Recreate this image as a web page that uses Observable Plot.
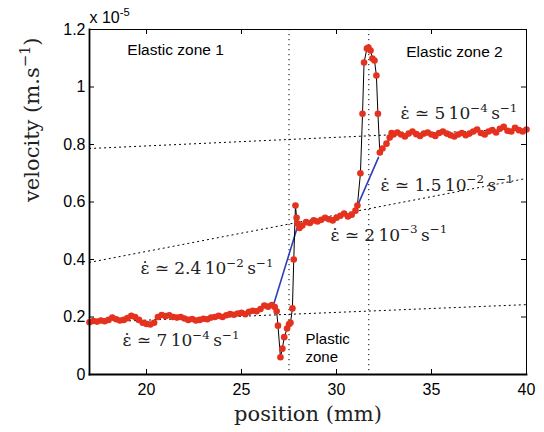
<!DOCTYPE html>
<html><head><meta charset="utf-8">
<script src="https://cdn.jsdelivr.net/npm/d3@7"></script>
<script src="https://cdn.jsdelivr.net/npm/@observablehq/plot@0.6"></script>
<style>body{margin:0;background:#fff}</style>
</head><body><div id="chart"></div>
<script>
// position (mm) and velocity (in units of 1e-5 m/s)
const position = [
  17.0,17.2,17.4,17.6,17.8,18.0,18.2,18.4,18.6,18.8,19.0,19.2,19.4,19.6,19.8,20.0,20.2,20.4,20.6,20.8,
  21.0,21.2,21.4,21.6,21.8,22.0,22.2,22.4,22.6,22.8,23.0,23.2,23.4,23.6,23.8,24.0,24.2,24.4,24.6,24.8,
  25.0,25.2,25.4,25.6,25.8,26.0,26.2,26.4,26.6,
  26.75,26.85,26.92,27.05,27.15,27.25,27.4,27.5,27.58,27.68,27.75,27.84,27.9,
  27.95,28.05,28.2,28.4,28.6,28.8,29.0,29.2,29.4,29.6,29.8,30.0,30.2,30.4,30.6,30.8,31.0,31.1,
  31.26,31.37,31.45,31.6,31.68,31.79,31.89,32.0,32.1,32.18,32.28,32.42,32.63,32.8,32.9,
  33.0,33.2,33.4,33.6,33.8,34.0,34.2,34.4,34.6,34.8,35.0,35.2,35.4,35.6,35.8,36.0,36.2,36.4,36.6,36.8,
  37.0,37.2,37.4,37.6,37.8,38.0,38.2,38.4,38.6,38.8,39.0,39.2,39.4,39.6,39.8,40.0
];
const velocity = [
  0.182,0.186,0.184,0.188,0.185,0.19,0.198,0.192,0.188,0.19,0.196,0.204,0.2,0.19,0.18,0.176,0.174,0.18,0.2,0.207,
  0.203,0.206,0.2,0.198,0.2,0.195,0.19,0.193,0.188,0.19,0.194,0.192,0.198,0.2,0.204,0.2,0.206,0.21,0.208,0.212,
  0.215,0.21,0.218,0.222,0.22,0.228,0.24,0.236,0.242,
  0.235,0.22,0.17,0.06,0.09,0.13,0.16,0.175,0.18,0.23,0.40,0.588,0.545,
  0.525,0.51,0.518,0.53,0.527,0.536,0.532,0.538,0.545,0.54,0.536,0.545,0.552,0.56,0.55,0.556,0.57,0.588,
  0.70,0.907,1.085,1.134,1.137,1.127,1.099,1.092,1.04,0.907,0.772,0.786,0.803,0.824,0.84,
  0.835,0.842,0.835,0.828,0.838,0.845,0.836,0.83,0.838,0.842,0.835,0.83,0.84,0.845,0.838,0.832,0.828,0.835,0.84,0.832,
  0.838,0.845,0.852,0.84,0.835,0.845,0.85,0.842,0.855,0.862,0.848,0.845,0.858,0.85,0.845,0.852
];
const xTicks = [20, 25, 30, 35, 40];
const yTicks = [0, 0.2, 0.4, 0.6, 0.8, 1, 1.2];
const yTickLabels = ["0", "0.2", "0.4", "0.6", "0.8", "1", "1.2"];
const zoneBounds = [27.5, 31.7];
const fitX = [17, 40];
const fitLow = [0.181, 0.243];
const fitMid = [0.39, 0.682];
const fitHigh = [0.786, 0.855];
const slope1X = [26.7, 27.95], slope1Y = [0.245, 0.515];
const slope2X = [31.16, 32.21], slope2Y = [0.595, 0.755];
const elasticText = ["Elastic zone 1", "Elastic zone 2"];
const elasticX = [21.53, 36.21];
const elasticY = [1.11, 1.103];
const plasticText = "Plastic\nzone";
const plasticX = 28.37, plasticY = 0.042;
const rateText = [
  "ε̇ ≃ 7\u200910^{−4}\u2009s^{−1}",
  "ε̇ ≃ 2.4\u200910^{−2}\u2009s^{−1}",
  "ε̇ ≃ 2\u200910^{−3}\u2009s^{−1}",
  "ε̇ ≃ 1.5\u200910^{−2}\u2009s^{−1}",
  "ε̇ ≃ 5\u200910^{−4}\u2009s^{−1}"
];
const rateX = [18.74, 19.68, 29.68, 32.32, 33.37];
const rateY = [0.10, 0.348, 0.466, 0.640, 0.890];
const xLabel = "position (mm)";
const yLabel = "velocity (m.s^{−1})";
const yMultiplier = "x 10^{-5}";

const pts = position.map((x, i) => ({x, y: velocity[i]}));
const fits = [fitLow, fitMid, fitHigh].flatMap((ys, k) => fitX.map((x, i) => ({x, y: ys[i], k})));
const slopes = [[slope1X, slope1Y], [slope2X, slope2Y]].flatMap(([xs, ys], k) => xs.map((x, i) => ({x, y: ys[i], k})));
const elastic = elasticText.map((t, i) => ({t, x: elasticX[i], y: elasticY[i]}));
const rates = rateText.map((t, i) => ({t, x: rateX[i], y: rateY[i]}));

const sans = "'Liberation Sans', Arial, Helvetica, sans-serif";
const serif = "'DejaVu Serif', serif";
const dotted = "1.2,3.8";

const chart = Plot.plot({
  width: 544, height: 432,
  marginLeft: 89, marginRight: 18, marginTop: 29, marginBottom: 58,
  x: {domain: [17, 40]},
  y: {domain: [0, 1.2]},
  style: {fontFamily: sans, fontSize: "16px", color: "black", background: "white"},
  marks: [
    Plot.line(fits, {x: "x", y: "y", z: "k", stroke: "black", strokeWidth: 1, strokeDasharray: dotted}),
    Plot.ruleX(zoneBounds, {stroke: "black", strokeWidth: 1, strokeDasharray: dotted}),
    Plot.line(slopes, {x: "x", y: "y", z: "k", stroke: "#2f3fb8", strokeWidth: 1.6}),
    Plot.line(pts, {x: "x", y: "y", stroke: "black", strokeWidth: 1}),
    Plot.dot(pts, {x: "x", y: "y", r: 3.3, fill: "#e4321f", stroke: "none"}),
    Plot.text(elastic, {x: "x", y: "y", text: "t", textAnchor: "middle", lineAnchor: "bottom", fontSize: 15.5, fontFamily: sans, fill: "black"}),
    Plot.text([plasticText], {x: () => plasticX, y: () => plasticY, textAnchor: "start", lineAnchor: "bottom", fontSize: 15, fontFamily: sans, lineHeight: 1.25, fill: "black"}),
    Plot.text(rates, {x: "x", y: "y", text: "t", textAnchor: "start", lineAnchor: "bottom", fontSize: 17, fontFamily: serif, fill: "#222"}),
    Plot.axisX({ticks: xTicks, tickSize: 0, tickPadding: 9, label: null, fontSize: 16}),
    Plot.axisY({ticks: yTicks, tickSize: 0, tickPadding: 4, label: null, fontSize: 16, tickFormat: d => yTickLabels[yTicks.indexOf(d)]}),
    Plot.ruleX(xTicks, {insetTop: 340, stroke: "black"}),
    Plot.ruleX(xTicks, {insetBottom: 340, stroke: "black"}),
    Plot.ruleY(yTicks, {insetRight: 432, stroke: "black"}),
    Plot.ruleY(yTicks, {insetLeft: 432, stroke: "black"}),
    Plot.frame({stroke: "black", strokeWidth: 1}),
    Plot.frame({anchor: "left", stroke: "black", strokeWidth: 1.8}),
    Plot.frame({anchor: "bottom", stroke: "black", strokeWidth: 1.8}),
    Plot.text([xLabel], {frameAnchor: "bottom", dy: 46, lineAnchor: "bottom", fontSize: 21, fontFamily: serif, fill: "#222"}),
    Plot.text([yLabel], {frameAnchor: "left", dx: -57, rotate: -90, lineAnchor: "middle", fontSize: 21, fontFamily: serif, fill: "#222"}),
    Plot.text([yMultiplier], {frameAnchor: "top-left", dy: -7, textAnchor: "start", lineAnchor: "bottom", fontSize: 16, fontFamily: sans, fill: "black"})
  ]
});
document.getElementById("chart").appendChild(chart);

// convert ^{...} markup into real superscript tspans
d3.select(chart).selectAll("text").each(function () {
  const s = this.textContent;
  if (!s.includes("^{")) return;
  const fs = parseFloat(getComputedStyle(this).fontSize) || 16;
  const sh = 0.42 * fs;
  while (this.firstChild) this.removeChild(this.firstChild);
  const re = /\^\{([^}]*)\}/g;
  let last = 0, m, shifted = false;
  const add = (txt, attrs) => {
    const t = document.createElementNS("http://www.w3.org/2000/svg", "tspan");
    for (const k in attrs) t.setAttribute(k, attrs[k]);
    t.textContent = txt;
    this.appendChild(t);
  };
  while ((m = re.exec(s))) {
    if (m.index > last) { add(s.slice(last, m.index), shifted ? {dy: sh} : {}); shifted = false; }
    add(m[1], shifted ? {"font-size": 0.7 * fs} : {dy: -sh, "font-size": 0.7 * fs});
    shifted = true;
    last = re.lastIndex;
  }
  if (last < s.length) add(s.slice(last), shifted ? {dy: sh} : {});
});
</script>
</body></html>
